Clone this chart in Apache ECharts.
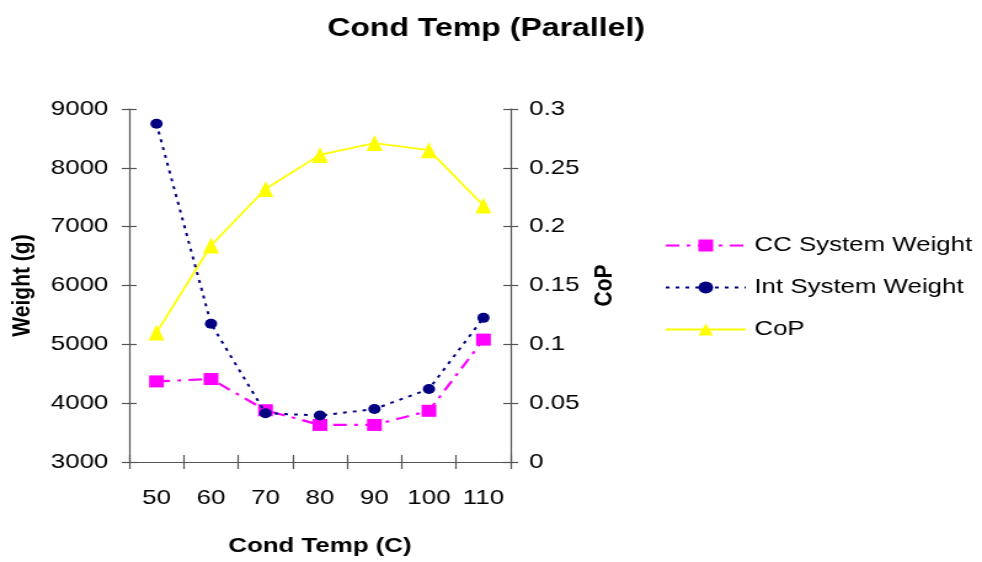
<!DOCTYPE html>
<html>
<head>
<meta charset="utf-8">
<script src="https://cdn.jsdelivr.net/npm/echarts@6/dist/echarts.min.js"></script>
<style>
  html, body { margin: 0; padding: 0; background: #fff; overflow: hidden; }
  /* the chart is laid out narrower and widened to fill the 982px page */
  #chart { width: 798px; height: 562px; transform: scaleX(1.2306); transform-origin: 0 0; }
</style>
</head>
<body>
<div id="chart"></div>
<script>
// Condenser temperature (C)
const condTemps = ['50', '60', '70', '80', '90', '100', '110'];
// System weights (g)
const ccSystemWeight = [4370, 4410, 3880, 3630, 3630, 3870, 5080];
const intSystemWeight = [8750, 5350, 3830, 3790, 3900, 4240, 5450];
// Coefficient of performance
const cop = [0.110, 0.184, 0.232, 0.261, 0.271, 0.265, 0.218];

const weightTicks = { min: 3000, max: 9000, interval: 1000 };
const copTicks = { min: 0, max: 0.3, interval: 0.05 };

const FONT = '"Liberation Sans", Arial, sans-serif';
const AXIS_COLOR = '#555';
const axisLine = { show: true, lineStyle: { color: AXIS_COLOR, width: 1.2 } };
const tickStyle = { color: AXIS_COLOR, width: 1.2 };
const tickLabel = { color: '#000', fontSize: 21, fontFamily: FONT };
const nameStyle = { color: '#000', fontSize: 21, fontWeight: 'bold', fontFamily: FONT };

const chart = echarts.init(document.getElementById('chart'), null, { renderer: 'canvas' });

chart.setOption({
  animation: false,
  backgroundColor: '#fff',
  title: {
    text: 'Cond Temp (Parallel)',
    left: 390, top: 11, textAlign: 'center',
    textStyle: { color: '#000', fontSize: 26, fontWeight: 'bold', fontFamily: FONT }
  },
  grid: { left: 105, right: 383, top: 109, bottom: 100, containLabel: false },
  legend: {
    orient: 'vertical',
    left: 535, top: 230,
    itemWidth: 65, itemHeight: 15, itemGap: 21,
    textStyle: { color: '#000', fontSize: 21, fontFamily: FONT, padding: [0, 0, 0, 2] },
    data: ['CC System Weight', 'Int System Weight', 'CoP']
  },
  xAxis: [
    {
      type: 'category', data: condTemps, boundaryGap: true,
      name: 'Cond Temp (C)', nameLocation: 'middle', nameGap: 74,
      nameTextStyle: nameStyle,
      axisLine: axisLine,
      axisTick: { show: true, inside: false, length: 7, interval: 0, lineStyle: tickStyle },
      axisLabel: Object.assign({ margin: 26, interval: 0, hideOverlap: false }, tickLabel),
      splitLine: { show: false }
    },
    {
      // inner half of the crossing ticks
      type: 'category', data: condTemps, boundaryGap: true, position: 'bottom',
      axisLine: { show: false },
      axisTick: { show: true, inside: true, length: 7, interval: 0, lineStyle: tickStyle },
      axisLabel: { show: false, interval: 0 },
      splitLine: { show: false }
    }
  ],
  yAxis: [
    Object.assign({
      type: 'value', position: 'left',
      name: 'Weight (g)', nameLocation: 'middle', nameGap: 76, nameRotate: 90,
      nameTextStyle: nameStyle,
      axisLine: axisLine,
      axisTick: { show: true, inside: false, length: 6, lineStyle: tickStyle },
      axisLabel: Object.assign({ margin: 17, formatter: v => String(v) }, tickLabel),
      splitLine: { show: false }
    }, weightTicks),
    Object.assign({
      type: 'value', position: 'right',
      name: 'CoP', nameLocation: 'middle', nameGap: 66, nameRotate: 90,
      nameTextStyle: nameStyle,
      axisLine: axisLine,
      axisTick: { show: true, inside: false, length: 6, lineStyle: tickStyle },
      axisLabel: Object.assign({ margin: 15, formatter: v => String(+v.toFixed(2)) }, tickLabel),
      splitLine: { show: false }
    }, copTicks),
    Object.assign({
      type: 'value', position: 'left', offset: 0,
      axisLine: { show: false },
      axisTick: { show: true, inside: true, length: 6, lineStyle: tickStyle },
      axisLabel: { show: false }, splitLine: { show: false }
    }, weightTicks),
    Object.assign({
      type: 'value', position: 'right', offset: 0,
      axisLine: { show: false },
      axisTick: { show: true, inside: true, length: 6, lineStyle: tickStyle },
      axisLabel: { show: false }, splitLine: { show: false }
    }, copTicks)
  ],
  series: [
    {
      name: 'CC System Weight', type: 'line', yAxisIndex: 0, data: ccSystemWeight,
      symbol: 'rect', symbolSize: 12,
      itemStyle: { color: '#FF00FF' },
      lineStyle: { color: '#FF00FF', width: 2.2, type: [11, 6, 3, 6] },
      z: 3
    },
    {
      name: 'Int System Weight', type: 'line', yAxisIndex: 0, data: intSystemWeight,
      symbol: 'circle', symbolSize: 10,
      itemStyle: { color: '#000080' },
      lineStyle: { color: '#000080', width: 2, type: [3, 5] },
      z: 4
    },
    {
      name: 'CoP', type: 'line', yAxisIndex: 1, data: cop,
      symbol: 'triangle', symbolSize: [13, 16],
      itemStyle: { color: '#FFFF00' },
      lineStyle: { color: '#FFFF00', width: 1.8 },
      z: 2
    }
  ]
});
</script>
</body>
</html>
